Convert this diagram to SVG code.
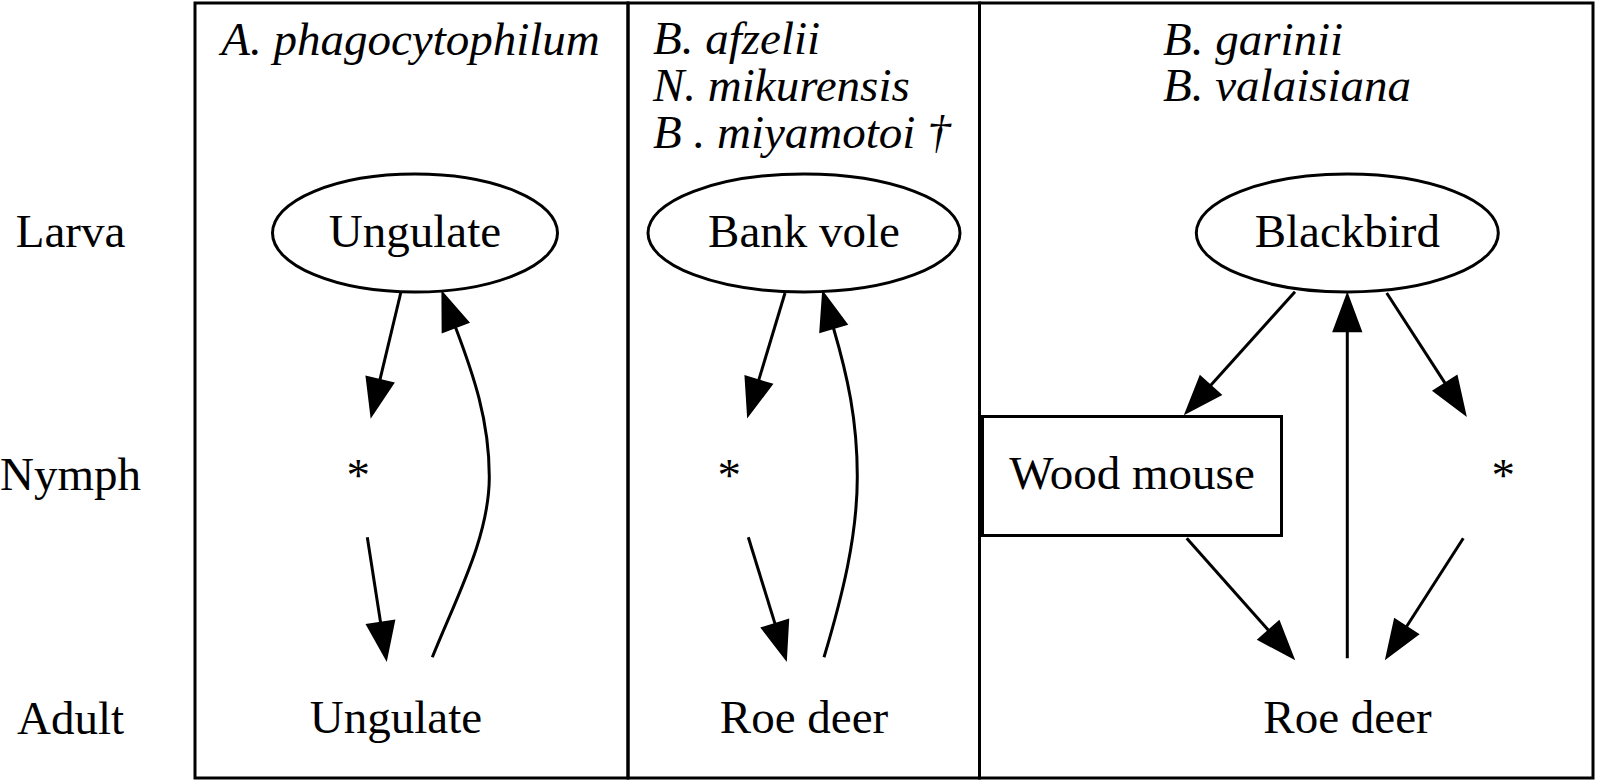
<svg xmlns="http://www.w3.org/2000/svg" width="1598" height="782" viewBox="0 0 1598 782" font-family="'Liberation Serif', 'DejaVu Serif', serif">
<style>
text{font-family:'Liberation Serif','DejaVu Serif',serif;font-size:47px;fill:#000}
.c{text-anchor:middle}
.i{font-style:italic}
.frame{fill:none;stroke:#000;stroke-width:3}
.node{fill:#fff;stroke:#000;stroke-width:3}
.edge{fill:none;stroke:#000;stroke-width:3}
</style>
<defs>
<marker id="ah" markerUnits="userSpaceOnUse" viewBox="-3 -17 42 34" markerWidth="42" markerHeight="34" refX="0" refY="0" orient="auto" style="overflow:visible">
<path d="M0,-13 L35,0 L0,13 Z" fill="#000" stroke="#000" stroke-width="3"/>
</marker>
</defs>
<rect width="1598" height="782" fill="#fff"/>
<g id="clusters">
<rect class="frame" x="195" y="3" width="433" height="775"/>
<rect class="frame" x="628" y="3" width="351.5" height="775"/>
<rect class="frame" x="979.5" y="3" width="613.5" height="775"/>
</g>
<g id="stage-labels">
<text class="c" x="70.5" y="247">Larva</text>
<text class="c" x="70.5" y="489.5">Nymph</text>
<text class="c" x="70.5" y="733.5">Adult</text>
</g>
<g id="pathogen-labels">
<text class="i c" x="410.5" y="55">A. phagocytophilum</text>
<text class="i" x="653" y="53.5">B. afzelii</text>
<text class="i" x="653" y="100.5">N. mikurensis</text>
<text class="i" x="653" y="147.5">B . miyamotoi †</text>
<text class="i" x="1163" y="55">B. garinii</text>
<text class="i" x="1163" y="100.5">B. valaisiana</text>
</g>
<g id="connectors">
<path class="edge" d="M400.7,293 L379.8,380.4" marker-end="url(#ah)"/>
<path class="edge" d="M367.3,537.3 L380.7,623.2" marker-end="url(#ah)"/>
<path class="edge" d="M432.3,657.3 C456.3,597.3 489.3,537 489.3,476.7 C489.3,420 473,373.5 455.3,326.7" marker-end="url(#ah)"/>
<path class="edge" d="M785,293 L758.5,380.9" marker-end="url(#ah)"/>
<path class="edge" d="M748.3,537.3 L775.2,624.4" marker-end="url(#ah)"/>
<path class="edge" d="M824,657.3 C842,597 857.3,537 857.3,476.7 C857.3,420 847.4,375.5 833.3,327.5" marker-end="url(#ah)"/>
<path class="edge" d="M1295,291.7 L1210.1,386" marker-end="url(#ah)"/>
<path class="edge" d="M1386.7,293 L1445.5,383.9" marker-end="url(#ah)"/>
<path class="edge" d="M1347.3,658.3 L1347.3,330.7" marker-end="url(#ah)"/>
<path class="edge" d="M1186.7,538.3 L1269.1,630.9" marker-end="url(#ah)"/>
<path class="edge" d="M1463.3,538.3 L1406.1,627.2" marker-end="url(#ah)"/>
</g>
<g id="larva-ungulate">
<ellipse class="node" cx="415" cy="233" rx="142.5" ry="59"/>
<text class="c" x="415" y="246.7">Ungulate</text>
</g>
<g id="nymph-star-1">
<text class="c" x="358.3" y="491">*</text>
</g>
<g id="adult-ungulate">
<text class="c" x="396" y="733.3">Ungulate</text>
</g>
<g id="larva-bank-vole">
<ellipse class="node" cx="804" cy="233" rx="156" ry="59"/>
<text class="c" x="804" y="246.7">Bank vole</text>
</g>
<g id="nymph-star-2">
<text class="c" x="729.3" y="491">*</text>
</g>
<g id="adult-roe-deer-1">
<text class="c" x="804" y="733.3">Roe deer</text>
</g>
<g id="larva-blackbird">
<ellipse class="node" cx="1347.3" cy="233" rx="151" ry="59"/>
<text class="c" x="1347.3" y="246.7">Blackbird</text>
</g>
<g id="nymph-wood-mouse">
<rect class="node" x="982.5" y="416.5" width="299" height="119"/>
<text class="c" x="1132" y="489.3">Wood mouse</text>
</g>
<g id="nymph-star-3">
<text class="c" x="1503.3" y="491">*</text>
</g>
<g id="adult-roe-deer-2">
<text class="c" x="1347.5" y="733.3">Roe deer</text>
</g>
</svg>
